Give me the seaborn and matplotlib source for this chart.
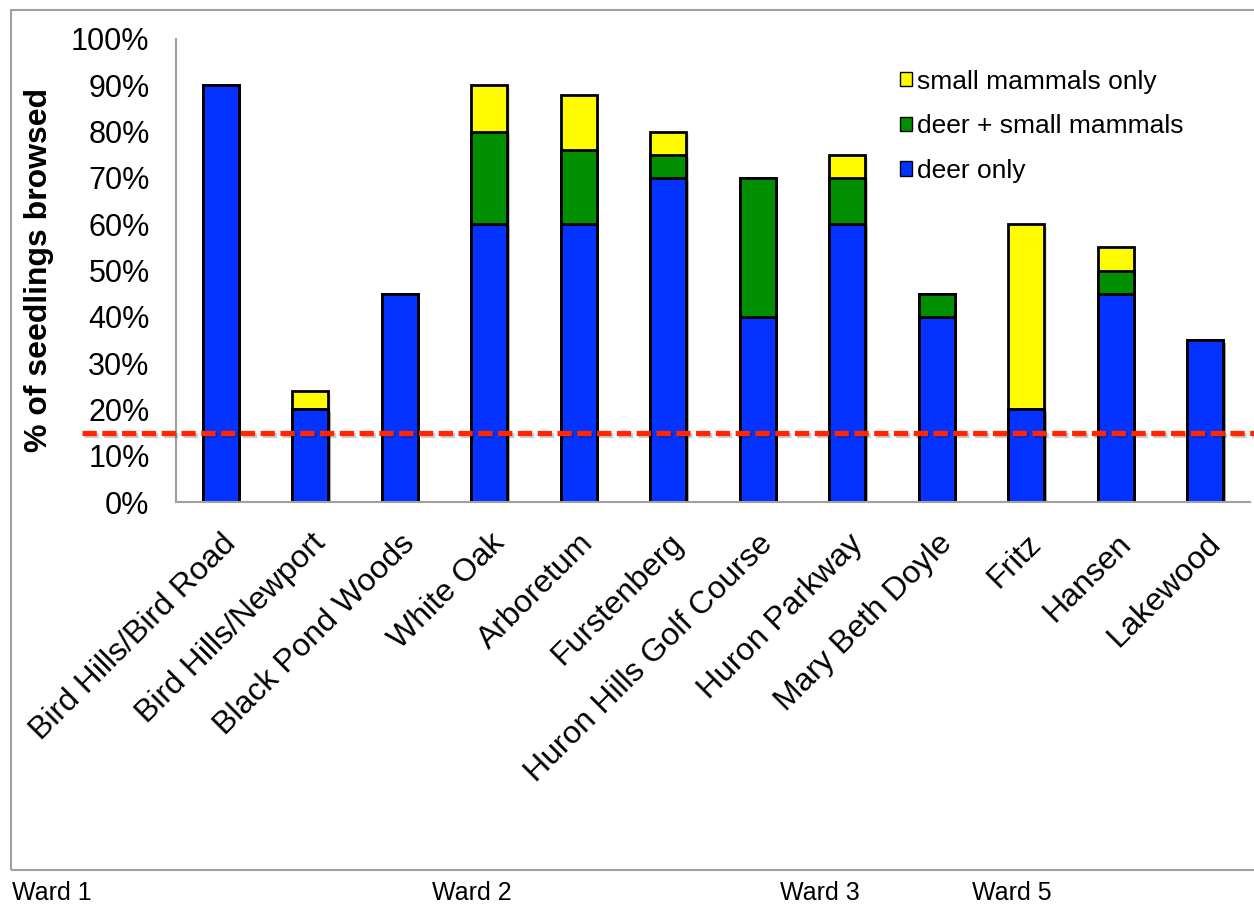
import matplotlib
matplotlib.use("Agg")
import matplotlib.pyplot as plt
from matplotlib.patches import Patch, Rectangle
from matplotlib.ticker import PercentFormatter
from matplotlib.transforms import ScaledTranslation
import matplotlib.patheffects as pe
import pandas as pd
import seaborn as sns

sites = ["Bird Hills/Bird Road", "Bird Hills/Newport", "Black Pond Woods", "White Oak",
         "Arboretum", "Furstenberg", "Huron Hills Golf Course", "Huron Parkway",
         "Mary Beth Doyle", "Fritz", "Hansen", "Lakewood"]
deer_only = [90, 20, 45, 60, 60, 70, 40, 60, 40, 20, 45, 35]
deer_and_small = [0, 0, 0, 20, 16, 5, 30, 10, 5, 0, 5, 0]
small_only = [0, 4, 0, 10, 12, 5, 0, 5, 0, 40, 5, 0]
threshold = 15
wards = ["Ward 1", "Ward 2", "Ward 3", "Ward 5"]
ward_x = [12, 432, 780, 972]

BLUE, GREEN, YELLOW, RED = "#0433FF", "#008F00", "#FFFB00", "#FF2600"
GRAY = "#a0a0a0"

df = pd.DataFrame({"site": sites, "deer": deer_only, "both": deer_and_small, "small": small_only})
df["lvl2"] = df["deer"] + df["both"]
df["lvl3"] = df["lvl2"] + df["small"]

sns.set_style("white")
plt.rcParams["font.family"] = ["Liberation Sans", "DejaVu Sans"]
plt.rcParams["text.color"] = "black"
plt.rcParams["axes.labelcolor"] = "black"

fig = plt.figure(figsize=(12.54, 9.09), dpi=100)
ax = fig.add_axes([176 / 1254, 1 - 502 / 909, 1074 / 1254, 463 / 909])

# frame around the chart area
fig.patches.append(Rectangle((11 / 1254, 1 - 870 / 909), 1.0, 860 / 909, transform=fig.transFigure,
                             fill=False, edgecolor=GRAY, linewidth=1.5))

common = dict(x="site", order=sites, width=0.4, edgecolor="black", linewidth=2, ax=ax, saturation=1)
sns.barplot(data=df, y="lvl3", color=YELLOW, **common)
sns.barplot(data=df, y="lvl2", color=GREEN, **common)
sns.barplot(data=df, y="deer", color=BLUE, **common)

shadow = [pe.SimplePatchShadow(offset=(2, -2), alpha=0.15), pe.Normal()]
for p in ax.patches:
    p.set_path_effects(shadow)

ax.set_ylim(0, 100)
ax.set_xlim(-0.5, len(sites) - 0.5)
ax.set_yticks(range(0, 101, 10))
ax.yaxis.set_major_formatter(PercentFormatter(100, decimals=0))
ax.set_xticks([i - 0.5 for i in range(len(sites) + 1)], minor=False)
ax.set_xticklabels([])
ax.set_xticks(range(len(sites)), minor=True)
ax.set_xticklabels(sites, minor=True, rotation=45, ha="right", rotation_mode="anchor", fontsize=23)
for lab in ax.get_xticklabels(minor=True):
    lab.set_transform(lab.get_transform() + ScaledTranslation(-0.06, 0, fig.dpi_scale_trans))
ax.tick_params(axis="x", which="minor", length=0, pad=19, labelcolor="black")
ax.tick_params(axis="x", which="major", length=8, width=1.5, color=GRAY, direction="out")
ax.tick_params(axis="y", length=8, width=1.5, color=GRAY, direction="out", labelsize=22, pad=11,
               labelcolor="black")
ax.set_xlabel("")
ax.set_ylabel("% of seedlings browsed", fontsize=23, fontweight="bold", labelpad=12)

for s in ["top", "right"]:
    ax.spines[s].set_visible(False)
for s in ["left", "bottom"]:
    ax.spines[s].set_color(GRAY)
    ax.spines[s].set_linewidth(1.5)

# threshold line, extending left past the axis
ax.plot([-1.55, len(sites) - 0.45], [threshold, threshold], color=RED, linewidth=3.8,
        dashes=(2.7, 1.05), clip_on=False, zorder=5,
        path_effects=[pe.SimpleLineShadow(offset=(1.5, -2), alpha=0.2), pe.Normal()])

handles = [Patch(facecolor=YELLOW, edgecolor="black", label="small mammals only"),
           Patch(facecolor=GREEN, edgecolor="black", label="deer + small mammals"),
           Patch(facecolor=BLUE, edgecolor="black", label="deer only")]
ax.legend(handles=handles, loc="upper left", bbox_to_anchor=(0.652, 0.985), frameon=False,
          fontsize=19, handlelength=0.45, handleheight=0.45, handletextpad=0.2, labelspacing=0.78)

for w, x in zip(wards, ward_x):
    fig.text(x / 1254, 1 - 893 / 909, w, fontsize=18, va="center", ha="left")

fig.savefig("out.png", dpi=100)
